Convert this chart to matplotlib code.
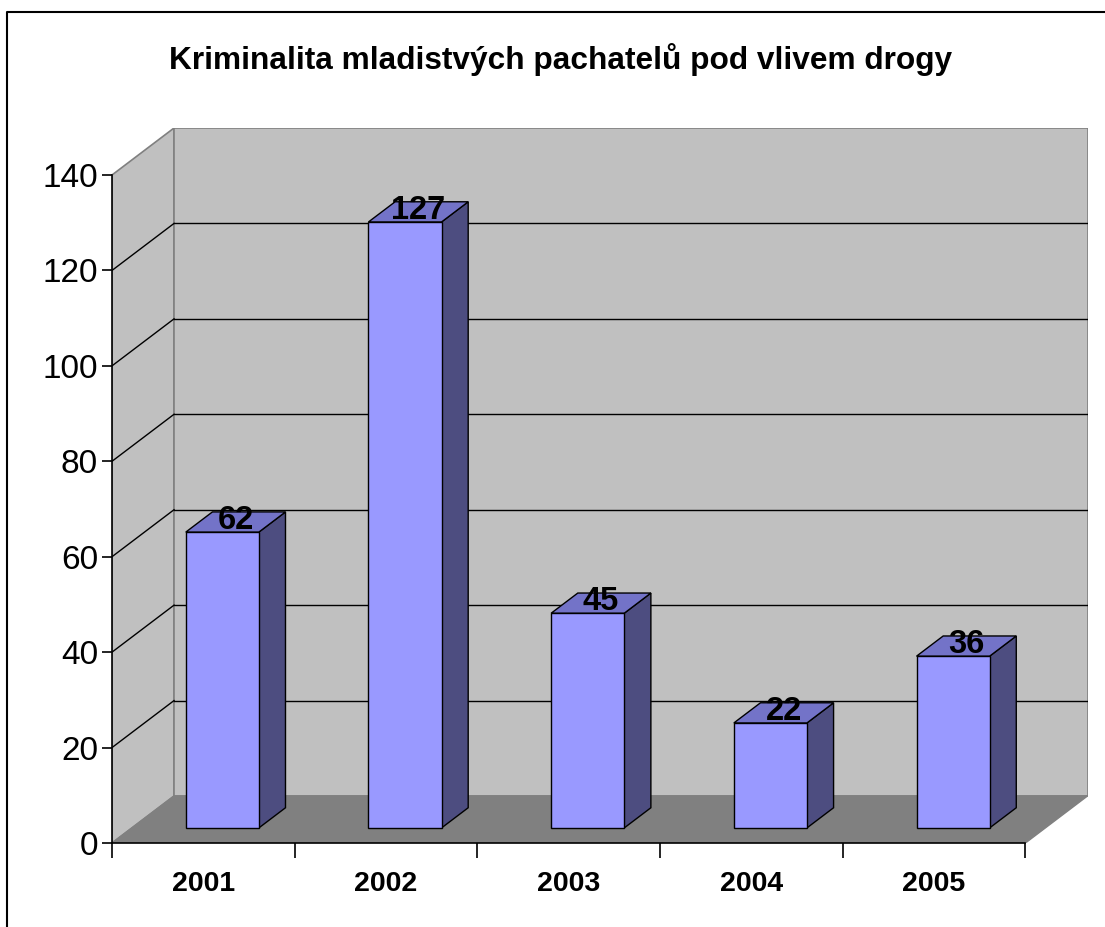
import matplotlib
matplotlib.use("Agg")
import matplotlib.pyplot as plt
from matplotlib.patches import Polygon
from matplotlib.lines import Line2D

plt.rcParams['font.family'] = ['Liberation Sans', 'DejaVu Sans']

title = "Kriminalita mladistvých pachatelů pod vlivem drogy"
years = ["2001", "2002", "2003", "2004", "2005"]
values = [62, 127, 45, 22, 36]
yticks = [0, 20, 40, 60, 80, 100, 120, 140]

W, H = 1105, 927
fig = plt.figure(figsize=(W / 100, H / 100), dpi=100)

n = len(years)
ymax = 140
dx = 62 / 182.6          # depth offset in category units
dy = 47 / 4.771          # depth offset in value units
xlim_max = n + dx
ylim_max = ymax + dy

left_px, bottom_px = 112, 843
right_px = 1087.5
top_px = 128
ax = fig.add_axes([left_px / W, (H - bottom_px) / H,
                   (right_px - left_px) / W, (bottom_px - top_px) / H])
ax.set_xlim(0, xlim_max)
ax.set_ylim(0, ylim_max)
ax.set_facecolor('none')

wall = '#C0C0C0'
floor = '#808080'
edge_gray = '#808080'

# left wall
ax.add_patch(Polygon([(0, 0), (0, ymax), (dx, ymax + dy), (dx, dy)], closed=True,
                     facecolor=wall, edgecolor=edge_gray, lw=1.2, zorder=1))
# back wall
ax.add_patch(Polygon([(dx, dy), (dx, ymax + dy), (n + dx, ymax + dy), (n + dx, dy)], closed=True,
                     facecolor=wall, edgecolor=edge_gray, lw=1.2, zorder=1))
# floor
ax.add_patch(Polygon([(0, 0), (n, 0), (n + dx, dy), (dx, dy)], closed=True,
                     facecolor=floor, edgecolor=floor, lw=1.0, zorder=1.5))

# gridlines
for v in yticks[1:-1]:
    ax.plot([0, dx], [v, v + dy], color='black', lw=1.0, zorder=1.2)
    ax.plot([dx, n + dx], [v + dy, v + dy], color='black', lw=1.0, zorder=1.2)

# bars
f0, f1 = 0.32, 0.75
bw0, bw1 = 0.295, 0.695
front_c = '#9999FF'
side_c = '#4D4D80'
top_c = '#7373C8'
for i, v in enumerate(values):
    x0 = i + bw0 + f0 * dx
    x1 = i + bw1 + f0 * dx
    y0 = f0 * dy
    y1 = v + f0 * dy
    ddx = (f1 - f0) * dx
    ddy = (f1 - f0) * dy
    ax.add_patch(Polygon([(x1, y0), (x1 + ddx, y0 + ddy), (x1 + ddx, y1 + ddy), (x1, y1)],
                         closed=True, facecolor=side_c, edgecolor='black', lw=1.0, zorder=3))
    ax.add_patch(Polygon([(x0, y1), (x1, y1), (x1 + ddx, y1 + ddy), (x0 + ddx, y1 + ddy)],
                         closed=True, facecolor=top_c, edgecolor='black', lw=1.0, zorder=3))
    ax.add_patch(Polygon([(x0, y0), (x1, y0), (x1, y1), (x0, y1)],
                         closed=True, facecolor=front_c, edgecolor='black', lw=1.0, zorder=4))
    ax.annotate(str(v), ((x0 + x1) / 2 + ddx / 2, y1 + ddy / 2),
                xytext=(0, 1), textcoords='offset points',
                ha='center', va='center', fontsize=23.5, fontweight='bold', zorder=6)

# axes spines / ticks
for s in ['top', 'right']:
    ax.spines[s].set_visible(False)
ax.spines['left'].set_bounds(0, ymax)
ax.spines['bottom'].set_bounds(0, n)
ax.spines['left'].set_linewidth(1.2)
ax.spines['bottom'].set_linewidth(1.2)
ax.spines['left'].set_zorder(5)
ax.spines['bottom'].set_zorder(5)
ax.set_yticks(yticks)
ax.set_yticklabels([str(t) for t in yticks], fontsize=24)
ax.tick_params(axis='y', length=7, width=1.2, pad=3)
ax.set_xticks(range(n + 1))
ax.set_xticklabels([])
ax.tick_params(axis='x', which='major', length=11, width=1.2, color='black')
ax.set_xticks([i + 0.5 for i in range(n)], minor=True)
ax.set_xticklabels(years, minor=True, fontsize=20.5, fontweight='bold')
ax.tick_params(axis='x', which='minor', length=0, pad=20)

fig.text(0.5 + 8 / W, 1 - 60 / H, title, ha='center', va='center',
         fontsize=22.8, fontweight='bold')

# figure border (top and left)
fig.add_artist(Line2D([7 / W, 7 / W, 1], [0, 1 - 12 / H, 1 - 12 / H],
                      transform=fig.transFigure, color='black', lw=1.5))

fig.savefig("out.png", dpi=100)
